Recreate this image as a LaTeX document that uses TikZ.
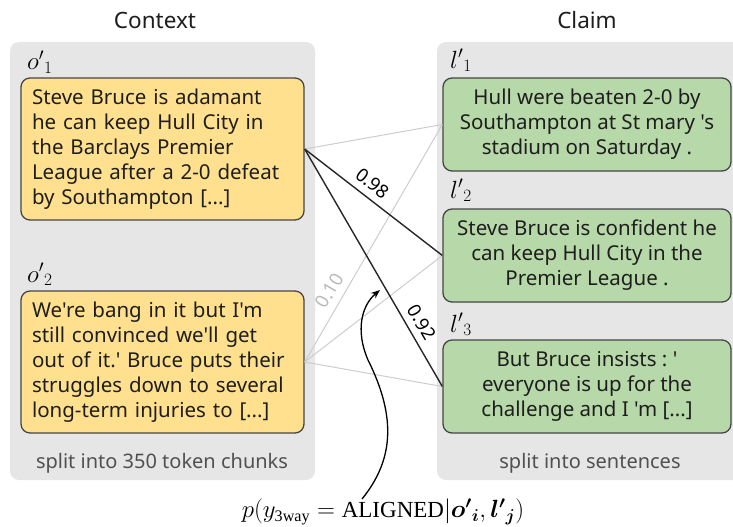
\documentclass[tikz,border=0pt]{standalone}
\usepackage{amsmath}
\usepackage{fontspec}
\setmainfont[Ligatures=TeXOff]{Noto Sans}
\newfontfamily\mathserif{Liberation Serif}
\usetikzlibrary{arrows.meta}
\frenchspacing
\definecolor{panelgrey}{RGB}{230,230,230}
\definecolor{chunkfill}{RGB}{255,224,142}
\definecolor{sentfill}{RGB}{183,216,168}
\definecolor{boxline}{RGB}{70,70,70}
\definecolor{weakline}{RGB}{205,205,205}
\definecolor{weaklabel}{RGB}{185,185,185}
\definecolor{bodytext}{RGB}{30,30,30}
\definecolor{notetext}{RGB}{80,80,80}
\tikzset{
  panel/.style={fill=panelgrey, rounded corners=9pt, draw=none},
  chunk/.style={draw=boxline, line width=1.3pt, fill=chunkfill, rounded corners=9pt,
    minimum width=283pt, minimum height=142pt, inner xsep=11pt, text width=261pt,
    align=left, font=\fontsize{20.5}{25}\selectfont\frenchspacing, text=bodytext},
  sent/.style={draw=boxline, line width=1.3pt, fill=sentfill, rounded corners=9pt,
    minimum width=288pt, minimum height=93pt, inner xsep=4pt,
    align=center, font=\fontsize{20.5}{25}\selectfont, text=bodytext},
  title/.style={font=\fontsize{22.5}{26}\selectfont, text=bodytext},
  note/.style={font=\fontsize{20}{24}\selectfont, text=notetext},
  tag/.style={font=\fontsize{25}{28}\selectfont, anchor=base west, inner sep=0pt},
  weak/.style={draw=weakline, line width=1pt},
  strong/.style={draw=black!85, line width=1.4pt},
  score/.style={font=\fontsize{18.5}{20}\selectfont, sloped, above, inner sep=7pt},
}
\begin{document}
\begin{tikzpicture}[x=1pt, y=-1pt]
\useasboundingbox (0,0) rectangle (733,527);

% column panels
\fill[panel] (10,42) rectangle (315,480);
\fill[panel] (437,42) rectangle (750,480);

% headings
\node[title] (ctxhead) at (155,20) {Context};
\node[title] (clmhead) at (587,20) {Claim};

% context chunks
\node[tag] (o1tag) at (27,70) {${o'}_1$};
\node[chunk] (o1) at (162.5,149) {Steve Bruce is adamant\\he can keep Hull City in\\the Barclays Premier\\League after a 2-0 defeat\\by Southampton [...]};
\node[tag] (o2tag) at (27,282) {${o'}_2$};
\node[chunk] (o2) at (162.5,362) {We're bang in it but I'm\\still convinced we'll get\\out of it.' Bruce puts their\\struggles down to several\\long-term injuries to [...]};
\node[note] (ctxnote) at (162,463) {split into 350 token chunks};

% claim sentences
\node[tag] (l1tag) at (450,68) {${l'}_1$};
\node[sent] (l1) at (587,124.5) {Hull were beaten 2-0 by\\Southampton at St mary 's\\stadium on Saturday .};
\node[tag] (l2tag) at (450,198) {${l'}_2$};
\node[sent] (l2) at (587,255.5) {Steve Bruce is confident he\\can keep Hull City in the\\Premier League .};
\node[tag] (l3tag) at (450,332) {${l'}_3$};
\node[sent] (l3) at (587,386.5) {But Bruce insists : '\\everyone is up for the\\challenge and I 'm [...]};
\node[note] (clmnote) at (590,463) {split into sentences};

% alignment scores between chunks and sentences
\draw[weak] (o1.east) -- (l1.west);
\draw[weak] (o2.east) -- node[score, pos=0.27, text=weaklabel] {0.10} (l1.west);
\draw[weak] (o2.east) -- (l2.west);
\draw[weak] (o2.east) -- (l3.west);
\draw[strong] (o1.east) -- node[score, pos=0.43] {0.98} (l2.west);
\draw[strong] (o1.east) -- node[score, pos=0.76] {0.92} (l3.west);

% probability annotation
\node[font=\fontsize{23}{26}\selectfont] (prob) at (383,512)
  {$p(y_{\text{\mathserif 3way}} = \text{\mathserif ALIGNED}|\boldsymbol{o'}_{\boldsymbol{i}}, \boldsymbol{l'}_{\boldsymbol{j}})$};
\coordinate (pointer) at (380,290);
\draw[line width=1.3pt, -{Stealth[length=9pt,width=7pt]}]
  (362,499) .. controls (392,462) and (398,420) .. (368,360)
            .. controls (355,330) and (362,305) .. (pointer);
\end{tikzpicture}
\end{document}
